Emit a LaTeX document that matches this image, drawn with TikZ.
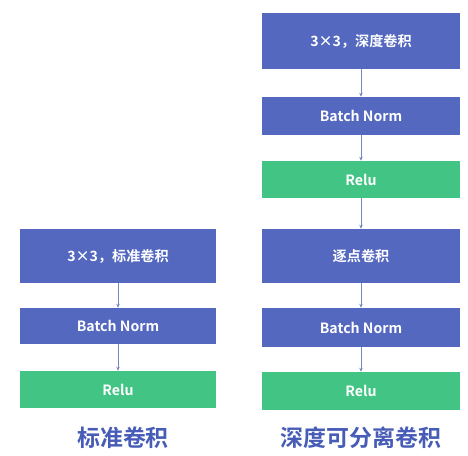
\documentclass[tikz,border=0pt]{standalone}
\usepackage{fontspec}
\setmainfont{Noto Sans CJK SC}[BoldFont = Noto Sans CJK SC Bold]
\usepackage{tikz}
\usetikzlibrary{arrows.meta}
\definecolor{layerblue}{RGB}{84,104,192}
\definecolor{layergreen}{RGB}{66,196,132}
\definecolor{titleblue}{RGB}{70,92,182}
\definecolor{linkgray}{RGB}{115,138,190}
\tikzset{
  layer/.style = {fill = layerblue, text = white, font = \bfseries\fontsize{10.6}{12}\selectfont, inner sep = 0, minimum width = 147pt},
  act/.style = {layer, fill = layergreen},
  link/.style = {linkgray, thin, -{Stealth[length = 3pt, width = 2.6pt]}},
  caption/.style = {titleblue, font = \bfseries\fontsize{17.2}{19}\selectfont}
}

\begin{document}
\begin{tikzpicture}[x = 0.75pt, y = -0.75pt]
    \useasboundingbox (0, 0) rectangle (468, 456);

    % standard convolution
    \node [layer, minimum height = 40.5pt] (convL) at (118, 256) {3×3，标准卷积};
    \node [layer, minimum height = 27pt] (bnL) at (118, 326) {Batch Norm};
    \node [act, minimum height = 27.75pt] (reluL) at (118, 389.5) {Relu};
    \node [caption] (titleL) at (123, 438) {标准卷积};

    \draw [link] (convL) -- (bnL);
    \draw [link] (bnL) -- (reluL);

    % depthwise separable convolution
    \node [layer, minimum width = 148.5pt, minimum height = 42pt] (dw) at (361, 41) {3×3，深度卷积};
    \node [layer, minimum width = 148.5pt, minimum height = 28.5pt] (bnA) at (361, 116) {Batch Norm};
    \node [act, minimum width = 148.5pt, minimum height = 27.75pt] (reluA) at (361, 179.5) {Relu};
    \node [layer, minimum width = 148.5pt, minimum height = 40.5pt] (pw) at (361, 256) {逐点卷积};
    \node [layer, minimum width = 148.5pt, minimum height = 29.25pt] (bnB) at (361, 327.5) {Batch Norm};
    \node [act, minimum width = 148.5pt, minimum height = 28.5pt] (reluB) at (361, 391) {Relu};
    \node [caption] (titleR) at (361, 438) {深度可分离卷积};

    \draw [link] (dw) -- (bnA);
    \draw [link] (bnA) -- (reluA);
    \draw [link] (reluA) -- (pw);
    \draw [link] (pw) -- (bnB);
    \draw [link] (bnB) -- (reluB);
\end{tikzpicture}
\end{document}
